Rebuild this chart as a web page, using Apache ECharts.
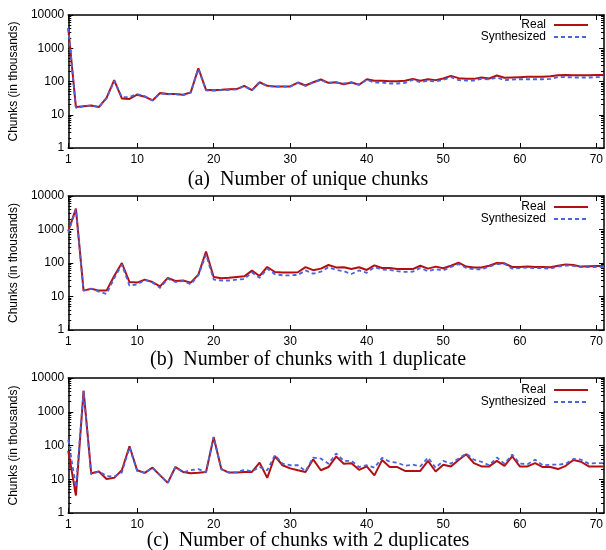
<!DOCTYPE html>
<html>
<head>
<meta charset="utf-8">
<script src="https://cdn.jsdelivr.net/npm/echarts@6/dist/echarts.min.js"></script>
<style>
    html, body { margin: 0; padding: 0; background: #fff; }
    #chart { width: 606px; height: 550px; }
</style>
</head>
<body>
<div id="chart"></div>
<script>
// chunk index on the x axis
var chunkIndex = [];
for (var i = 1; i <= 71; i++) chunkIndex.push(i);

var xTicks = [1, 10, 20, 30, 40, 50, 60, 70];
var yTicks = [1, 10, 100, 1000, 10000];
var seriesNames = ['Real', 'Synthesized'];
var captions = [
    '(a)  Number of unique chunks',
    '(b)  Number of chunks with 1 duplicate',
    '(c)  Number of chunks with 2 duplicates'
];

// (a) unique chunks
var realUnique = [4000, 17, 18, 19, 17, 32, 110, 31, 30, 40,
    35, 27, 45, 42, 42, 40, 47, 250, 56, 55,
    56, 58, 59, 74, 55, 95, 74, 71, 71, 71,
    93, 76, 95, 115, 91, 95, 83, 93, 80, 117,
    105, 105, 102, 102, 105, 120, 105, 117, 110, 123,
    148, 126, 120, 120, 132, 123, 151, 129, 132, 135,
    138, 138, 138, 145, 155, 158, 155, 155, 155, 158,
    158];
var synthUnique = [4000, 16, 18, 19, 17, 31, 105, 34, 34, 42,
    36, 27, 44, 41, 42, 39, 46, 240, 54, 53,
    55, 56, 58, 72, 54, 93, 73, 70, 70, 70,
    91, 74, 93, 112, 89, 92, 87, 95, 80, 112,
    93, 93, 87, 87, 91, 112, 95, 105, 100, 112,
    135, 110, 107, 107, 120, 115, 132, 110, 115, 117,
    117, 117, 117, 120, 135, 135, 132, 132, 132, 135,
    135];

// (b) chunks with 1 duplicate
var realDup1 = [900, 4200, 15, 17, 15, 15, 41, 100, 27, 26,
    32, 27, 20, 36, 29, 30, 26, 45, 220, 38,
    35, 36, 38, 40, 59, 41, 76, 54, 52, 52,
    53, 75, 61, 68, 87, 74, 75, 66, 75, 62,
    85, 71, 71, 66, 66, 66, 83, 68, 78, 70,
    83, 102, 78, 73, 73, 83, 100, 98, 76, 76,
    78, 76, 76, 75, 83, 91, 87, 78, 80, 82,
    82];
var synthDup1 = [800, 4000, 15, 17, 14, 12, 35, 90, 21, 23,
    31, 26, 18, 34, 27, 29, 23, 43, 180, 32,
    30, 30, 32, 33, 52, 36, 68, 46, 43, 43,
    44, 60, 48, 55, 75, 62, 57, 47, 60, 51,
    75, 64, 62, 57, 54, 55, 71, 57, 65, 60,
    76, 93, 71, 65, 65, 78, 93, 93, 68, 70,
    73, 70, 70, 68, 78, 85, 82, 75, 75, 76,
    76];

// (c) chunks with 2 duplicates
var realDup2 = [70, 3.3, 4200, 15, 17, 10.2, 11, 18.5, 95, 18.5,
    15.5, 22, 13, 7.8, 23, 16.5, 15, 15.5, 16.5, 175,
    20, 15.8, 15.8, 16.5, 16.5, 31, 11, 48, 26, 21,
    18.5, 16.5, 39, 18.5, 23, 47, 29, 30, 19, 24,
    13, 37, 23, 23, 17.6, 17.6, 17.6, 35, 17, 27,
    24, 37, 55, 30, 24, 24, 35, 25, 48, 24,
    24, 30, 23, 23, 20, 25, 37, 33, 24, 24,
    24];
var synthDup2 = [150, 5.9, 4000, 14, 17, 12.5, 12, 16, 87, 17.5,
    15.5, 22, 13, 7.8, 23, 16, 18.5, 20, 16, 180,
    20, 15.8, 16, 19, 17, 23, 18.5, 52, 29, 26,
    26, 17.5, 44, 41, 29, 58, 35, 35, 23, 26,
    22, 43, 33, 31, 25, 27, 24, 44, 22, 35,
    29, 41, 58, 38, 33, 26, 44, 29, 54, 29,
    28, 38, 26, 27, 27, 29, 40, 38, 29, 30,
    30];

var panelData = [
    [realUnique, synthUnique],
    [realDup1, synthDup1],
    [realDup2, synthDup2]
];

// minor log ticks 2..9 in each decade
var yMinor = [];
for (var d = 1; d < 10000; d *= 10) {
    for (var m = 2; m <= 9; m++) yMinor.push(m * d);
}

var panels = [
    { top: 15, height: 133, legendTop: 19, captionY: 180 },
    { top: 196, height: 134, legendTop: 201, captionY: 360 },
    { top: 378, height: 135, legendTop: 384, captionY: 541 }
];

var sans = 'Liberation Sans';
var black = '#000';

function pairs(arr) {
    return chunkIndex.map(function (k, j) { return [k, arr[j]]; });
}

var grid = [], xAxis = [], yAxis = [], series = [], legend = [], graphic = [];

panels.forEach(function (p, i) {
    grid.push({ left: 66, right: 2, top: p.top, height: p.height });

    ['bottom', 'top'].forEach(function (pos) {
        xAxis.push({
            gridIndex: i,
            type: 'value',
            position: pos,
            min: 1,
            max: 71,
            axisLine: { show: true, onZero: false, lineStyle: { color: black, width: 1.5 } },
            axisTick: { show: true, inside: true, length: 5, customValues: xTicks, lineStyle: { color: black } },
            axisLabel: {
                show: pos == 'bottom',
                customValues: xTicks,
                fontSize: 12,
                fontFamily: sans,
                color: black,
                margin: 6
            },
            splitLine: { show: false }
        });
    });

    ['left', 'right'].forEach(function (pos) {
        // major ticks
        yAxis.push({
            gridIndex: i,
            type: 'log',
            logBase: 10,
            position: pos,
            min: 1,
            max: 10000,
            name: pos == 'left' ? 'Chunks (in thousands)' : '',
            nameLocation: 'middle',
            nameGap: 40,
            nameTextStyle: { fontSize: 12, fontFamily: sans, color: black },
            axisLine: { show: true, lineStyle: { color: black, width: 1.5 } },
            axisTick: { show: true, inside: true, length: 5, customValues: yTicks, lineStyle: { color: black } },
            axisLabel: {
                show: pos == 'left',
                customValues: yTicks,
                fontSize: 12,
                fontFamily: sans,
                color: black,
                margin: 4,
                formatter: function (v) { return String(Math.round(v)); }
            },
            splitLine: { show: false }
        });
        // minor ticks
        yAxis.push({
            gridIndex: i,
            type: 'log',
            logBase: 10,
            position: pos,
            min: 1,
            max: 10000,
            axisLine: { show: false },
            axisTick: { show: true, inside: true, length: 3, customValues: yMinor, lineStyle: { color: black } },
            axisLabel: { show: false },
            splitLine: { show: false }
        });
    });

    series.push({
        name: seriesNames[0],
        type: 'line',
        xAxisIndex: 2 * i,
        yAxisIndex: 4 * i,
        data: pairs(panelData[i][0]),
        symbol: 'none',
        color: '#b30f12',
        lineStyle: { color: '#b30f12', width: 2 }
    });
    series.push({
        name: seriesNames[1],
        type: 'line',
        xAxisIndex: 2 * i,
        yAxisIndex: 4 * i,
        data: pairs(panelData[i][1]),
        symbol: 'none',
        color: '#4a64dc',
        lineStyle: { color: '#4a64dc', width: 1.8, type: [4, 3] }
    });

    legend.push({
        data: seriesNames,
        orient: 'vertical',
        right: 17,
        top: p.legendTop,
        padding: 0,
        align: 'right',
        itemWidth: 34,
        itemHeight: 10,
        itemGap: 0,
        selectedMode: false,
        itemStyle: { opacity: 0 },
        textStyle: { fontSize: 12, fontFamily: sans, color: black, lineHeight: 12, padding: [0, 3, 0, 0] }
    });

    graphic.push({
        type: 'text',
        x: 308,
        y: p.captionY,
        style: {
            text: captions[i],
            fontSize: 20,
            fontFamily: 'Liberation Serif',
            fill: black,
            align: 'center',
            verticalAlign: 'middle'
        }
    });
});

var chart = echarts.init(document.getElementById('chart'));
chart.setOption({
    animation: false,
    backgroundColor: '#fff',
    grid: grid,
    xAxis: xAxis,
    yAxis: yAxis,
    legend: legend,
    series: series,
    graphic: graphic
});
</script>
</body>
</html>
